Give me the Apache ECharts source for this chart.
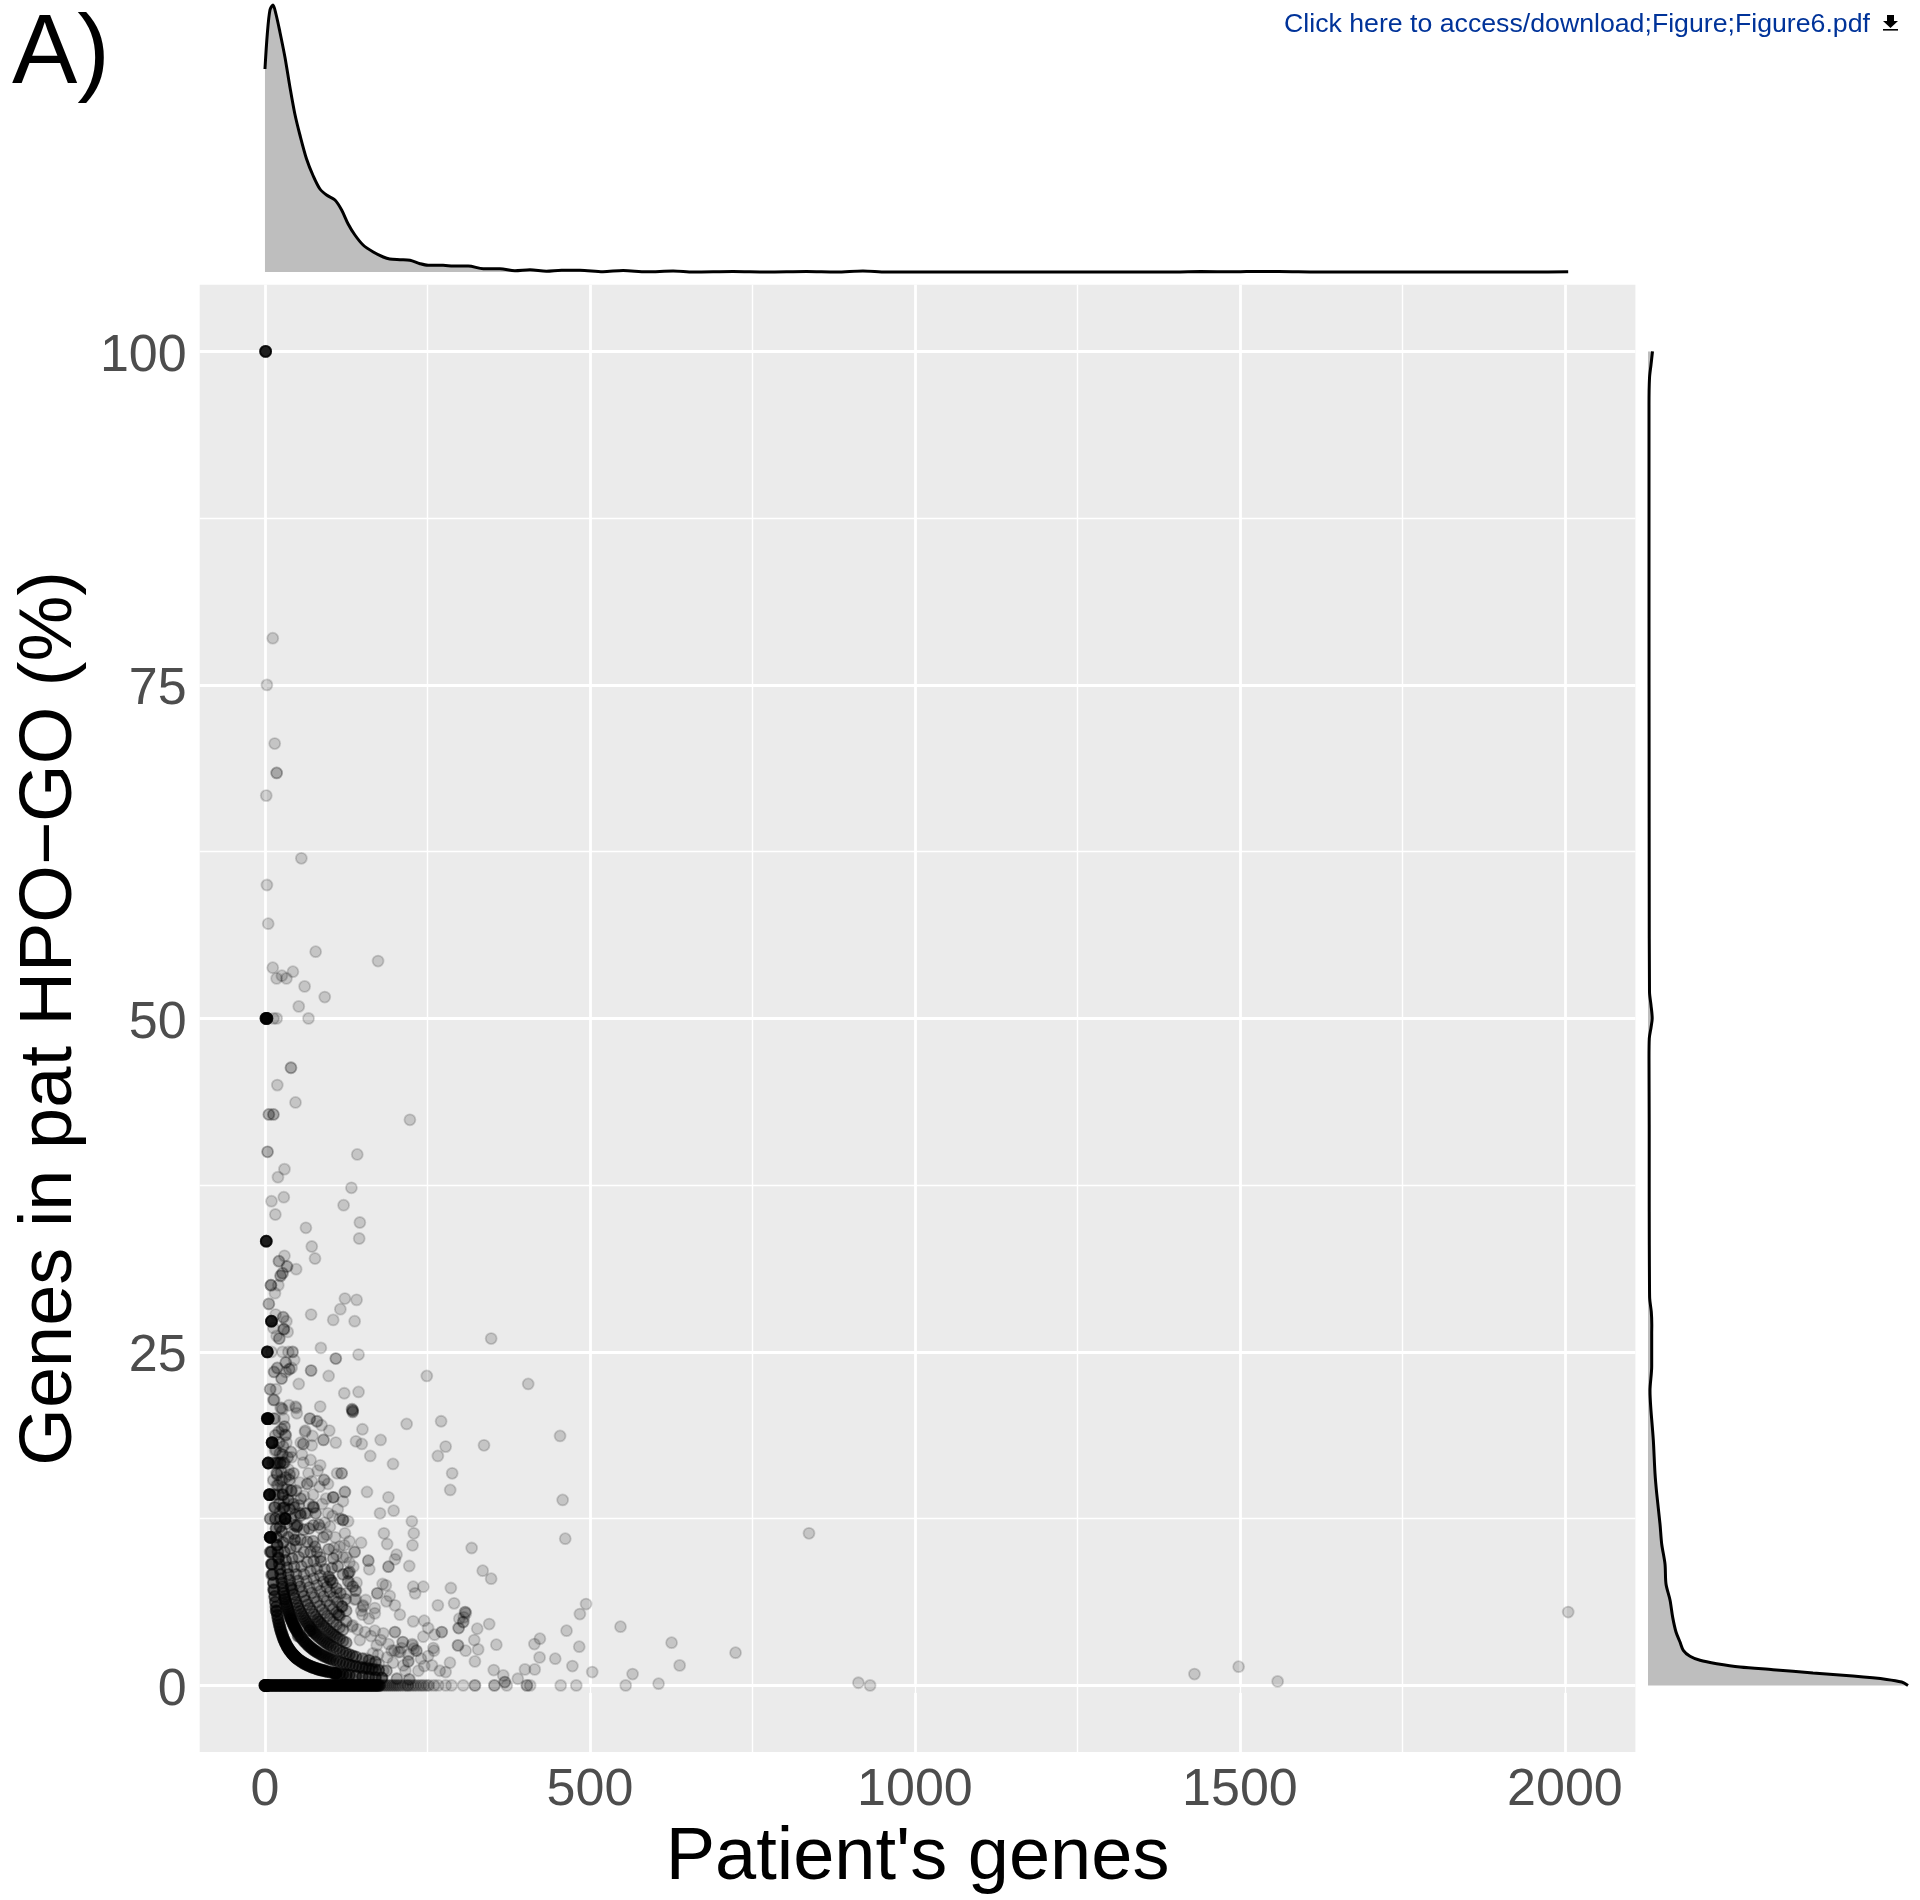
<!DOCTYPE html>
<html>
<head>
<meta charset="utf-8">
<style>html,body{margin:0;padding:0;background:#fff}#c{width:1920px;height:1900px}</style>
<script src="https://cdn.jsdelivr.net/npm/echarts@6/dist/echarts.min.js"></script>
</head>
<body>
<div id="c"></div>
<script>
const xTickValues = [0, 500, 1000, 1500, 2000];
const xMinorValues = [250, 750, 1250, 1750];
const yTickValues = [0, 25, 50, 75, 100];
const yMinorValues = [12.5, 37.5, 62.5, 87.5];

const singlePoints = [
[12,78.5],[3,75],[15,70.6],[2,66.7],[56,62],[3,60],[5,57.1],[78,55],[174,54.3],[12,53.8],[26,53.2],[33,53],[43,53.5],[18,53],[61,52.4],[92,51.6],[52,50.9],[13,50],[18,50],[67,50],
[19,45],[47,43.7],[223,42.4],[142,39.8],[30,38.7],[20,38.1],[133,37.3],[29,36.6],[10,36.3],[121,36],[16,35.3],[146,34.7],[63,34.3],[145,33.5],
[72,32.9],[77,32],[30,32.2],[48,31.2],[20.5,30],[15.4,29.4],[123,29],[141,28.9],[116,28.2],[71,27.8],[105,27.4],[138,27.3],[16.4,27.8],[33,27.3],[13,26.8],[35,26.5],[18,26.2],[348,26],
[10,25],[27,25],[36,25],[45,24.4],[86,25.3],[144,24.8],[41,23.8],[32,23.5],[98,23.2],[249,23.2],[405,22.6],[52,22.6],[17,22.2],[122,21.9],[144,22],[13,21.4],[37,21],[48,20.8],[85,20.9],[24,20.8],[27,20.7],[49,20.4],
[13,20],[29,20],[69,20],[80.5,19.8],[87,19.5],[218,19.6],[271,19.8],[62,19.1],[99,19.1],[150,19.2],[454,18.7],[337,18],[278,17.9],[266,17.2],[288,15.9],[285,14.65],[458,13.9],[462,11],[318,10.3],[335,8.6],[348,8],
[178,18.4],[162,17.2],[197,16.6],[109,18.2],[140,18.3],[149,18.1],[157,14.5],[190,14.1],[198,13.1],[177,12.9],[226,12.3],[229,11.4],[227,10.5],[183,11.4],[188,10.6],[148,10.7],[202.5,9.8],[200,9.45],[222,8.95],[160.5,8.7],
[228,7.4],[243.6,7.4],[286,7.3],[231,6.9],[266,6],[291,6.15],[181,7.6],[186,7.5],[192,6.7],[187,6.3],[200,6],[207.6,5.3],[140,7.1],[140,6.45],[151,6],[169,5.4],[160,5],[150,5.3],[135,4.5],
[228,4.8],[245,4.85],[251,4.3],[261,3.8],[243.5,3.65],[199,2.6],[208,2.5],[226.6,3.1],[229,2.75],[260,2.6],[251,2.2],[245,1.45],[257,1.5],[284.6,1.7],[269,1.1],[278,1],
[345,4.6],[326.6,4.25],[309,5.4],[306,5.1],[299,5],[322,3.4],[356,3.05],[308.7,2.6],[328,2.7],[323,1.8],[352,1.15],[366.6,.75],[389,.5],[400,1.2],[415,1.2],[414.5,3.1],[423,3.5],[422.5,2.1],[446.6,2],[473,1.45],[464,4.1],[483.5,2.9],[484.5,5.35],[494,6.1],[503.5,1],[547,4.4],[565.6,.85],[605.6,.13],[625.6,3.2],[638,1.5],
[724,2.45],[837,11.4],[913,.2],[931,0],[1430,.85],[1498,1.4],[1558,.3],[2005,5.5],[555,0],[479,0],[455,0],[408,0],[372,0],[305,0],[287,0],[278,0],[266.6,0],[248.7,0],[236,0],[219.5,0],
[31,18.8],[33,18.2],[15.4,17.6],[61.6,19],[69,20],[79.5,19.8],[73,18.7],[55,18.2],[72,18],[57,17.3],[70,16.9],[59,16.7],[85,16.5],[81,16.1],[67,15.9],[41,17.1],[36,16.2],[23,15.3],[54,15.2],[97,15.1],[111,15.9],[18,15],
[74,14.3],[97,12.9],[120,13.8],[115,12.5],[128,12.3],[123,11.4],[100,11.9],[95,11.3],[122,10.5],[106,10.3],[110,9.8],[120,9.6],[136,8.9],[141,7.7],[139,7.1],[138,6.45],[110,7],[155,6.4],[151,5.9],[169,5.8],[134,4.4],[169,4.1],[154,4],[178,3.4],[172,3],[195,2.6],[205,2.5],[227,3],[213,1.5],[259,2.8],[156,2],[174,2.3],[182,1.1],[156,1.4],[210,2.8],[221,2.3],[15,14.3],[15,13.4],[38,13.2],[25.7,20.8],[47,20.9],
[85,11.8],[92,12.2],[108,11.1],[115,10.4],[125,9.6],[130,10.8],[130,9.2],[72,15.3],[65,12.9],[88,13.6],[104,12.7],[112,13.2],[60,14.2],[68,13.6],[84,14.9],[94,14],[131,7.6],[125,6.9],[148,5.6],[142,4.2],[146,3.4],[163,3.7],[182,3.9],[190,3.1],[166,2.4],[188,2.1],[197,1.7],[240,2],[216,1.1],[236,1.1],[164,1.6],[175,1.6]
];
const doublePoints = [
[18,68.4],[40,46.3],[6,42.8],[13,42.8],[4,40],[21.5,31.8],[34,31.4],[27,30.9],[24,30.7],[6,28.6],[28,27.6],[22,26],[42.5,25],[109,24.5],[32,24.2],[19,23.8],[37.4,23.7],[14,23.5],[71,23.6],[25.6,23],[8,22.2],[134,20.7],[135,20.5],[30,19.4],
[159,9.35],[190,8.9],[130,8.5],[308,5.5],[172.8,6.9],[272,4],[200,4],[212,3.25],[233,2.6],[220.5,1.8],[298,4.3],[305,4.75],[297,3],[27,17.3],[59,18.1],[90,18.4],[23,16.67],[135,20.6],[37.5,15.4],[65,15.1],[91,15.4],[118,15.9],[40,14.6],[123,14.5],[55,14],[74,13.4],[78,12.9],[54,12.9],[46,12],[74.4,12],[77,10.4],[138,10],[85,9.6],[103,8.8],[128,8.4],[100,7.9],[187,1.1],[203,.5],[222,.45],[369,.25],[323,0],[353,0],[403,0],[10,8.3],[13,7.2],[82,4.8],[40,5],[101.5,7.9],[119,5.9],[18,15.9],[15.4,16.67],[28,16.67],[20,16.67]
];
const triplePoints = [
[9.2,30],[29,26.7],[105,14.1],[7,14.3],[27,14.3],[8,12.5],[28,13.3],[18.5,10.5],[9,11.1],[20.5,9.6],[9.8,9.1],[17,5.6],[30,6.5],[40,7.3],[23,11.9],[49,11.9],[120,12.4],[46,10.9],[113,5.3],[69,4.1],[51,3.7],[8,10]
];
const stackedPoints = [
[1,100],[1.6,50],[3,50],[2,33.3],[10,27.3],[3.6,25],[3.6,20],[5,20],[11,18.2],[5,16.67],[7,14.3],[31,12.5],[8,11.1],[108,.9],[0,0],[1,0],[2,0],[3,0]
];
const fewGenePoints = [
[14,21.4],[15,20],[16,18.75],[17,17.65],[18,16.67],[19,15.8],[20,15],[21,14.3],[22,13.6],[23,13],
[21,19],[22,18.2],[23,17.4],[24,16.7],[25,16],[26,15.4],[27,14.8],[28,14.3],[29,13.8],
[26,19.2],[28,17.9],[30,16.7],[32,15.6],[34,14.7],[36,13.9],[38,13.2],
[11,18.18],[12,16.67],[13,15.38],[14,14.29],
[32,18.75],[35,17.1],[38,15.8],[41,14.6],[44,13.6],[47,12.8],
[40,17.5],[44,15.9],[48,14.6],[52,13.5]
];
const arc1Points = [
[9,11.11],[10,10],[11,9.09],[12,8.33],[13,7.69],[14,7.14],[15,6.67],[16,6.25],[17,5.88],[18,5.56],[19,5.26],[20,5],[21,4.76],[22,4.55],[23,4.35],[24,4.17],[25,4],[26,3.85],[27,3.7],[28,3.57],[29,3.45],[30,3.33],[31,3.23],[32,3.13],[33,3.03],[34,2.94],[35,2.86],[36,2.78],[37,2.7],[38,2.63],[39,2.56],[40,2.5],[41,2.44],[42,2.38],[43,2.33],[44,2.27],[45,2.22],[46,2.17],[47,2.13],[48,2.08],[49,2.04],[50,2],[52,1.92],[54,1.85],[56,1.79],[58,1.72],[60,1.67],[62,1.61],[64,1.56],[66,1.52],[68,1.47],[70,1.43],[72,1.39],[74,1.35],[76,1.32],[78,1.28],[80,1.25],[82,1.22],[84,1.19],[86,1.16],[88,1.14],[90,1.11],[93,1.08],[96,1.04],[100,1],[105,.95],[110,.91],[115,.87],[120,.83],[125,.8],[130,.77],[140,.71],[150,.67],[160,.63],[170,.59],[180,.56]
];
const arc2Points = [
[15,13.33],[16,12.5],[17,11.76],[18,11.11],[19,10.53],[20,10],[21,9.52],[22,9.09],[23,8.7],[24,8.33],[25,8],[26,7.69],[27,7.41],[28,7.14],[29,6.9],[30,6.67],[31,6.45],[32,6.25],[33,6.06],[34,5.88],[35,5.71],[36,5.56],[37,5.41],[38,5.26],[39,5.13],[40,5],[41,4.88],[42,4.76],[43,4.65],[44,4.55],[45,4.44],[46,4.35],[47,4.26],[48,4.17],[49,4.08],[50,4],[52,3.85],[54,3.7],[56,3.57],[58,3.45],[60,3.33],[62,3.23],[64,3.13],[66,3.03],[68,2.94],[70,2.86],[72,2.78],[74,2.7],[76,2.63],[78,2.56],[80,2.5],[83,2.41],[86,2.33],[89,2.25],[92,2.17],[95,2.11],[98,2.04],[101,1.98],[105,1.9],[110,1.82],[115,1.74],[120,1.67],[125,1.6],[130,1.54],[135,1.48],[140,1.43],[145,1.38],[150,1.33],[155,1.29],[160,1.25],[165,1.21],[170,1.18],[175,1.14]
];
const arc3Points = [
[24,12.5],[26,11.54],[28,10.71],[30,10],[32,9.38],[34,8.82],[36,8.33],[38,7.89],[40,7.5],[42,7.14],[44,6.82],[46,6.52],[48,6.25],[50,6],[52,5.77],[54,5.56],[56,5.36],[58,5.17],[60,5],[62,4.84],[64,4.69],[66,4.55],[68,4.41],[70,4.29],[72,4.17],[74,4.05],[76,3.95],[78,3.85],[80,3.75],[83,3.61],[86,3.49],[89,3.37],[92,3.26],[95,3.16],[98,3.06],[101,2.97],[105,2.86],[110,2.73],[115,2.61],[120,2.5],[125,2.4],[130,2.31],[135,2.22],[140,2.14],[150,2],[160,1.88],[170,1.76]
];
const arc4Points = [
[30,13.33],[33,12.12],[36,11.11],[39,10.26],[42,9.52],[45,8.89],[48,8.33],[51,7.84],[54,7.41],[57,7.02],[60,6.67],[63,6.35],[66,6.06],[69,5.8],[72,5.56],[75,5.33],[78,5.13],[81,4.94],[84,4.76],[87,4.6],[90,4.44],[93,4.3],[96,4.17],[99,4.04],[102,3.92],[105,3.81],[108,3.7],[111,3.6],[115,3.48],[120,3.33],[125,3.2]
];
const arc5to9Points = [
[36,13.89],[40,12.5],[44,11.36],[48,10.42],[52,9.62],[56,8.93],[60,8.33],[64,7.81],[68,7.35],[72,6.94],[76,6.58],[80,6.25],[84,5.95],[88,5.68],[92,5.43],[96,5.21],[100,5],[105,4.76],[110,4.55],[115,4.35],[120,4.17],
[45,13.33],[50,12],[55,10.91],[60,10],[65,9.23],[70,8.57],[75,8],[80,7.5],[85,7.06],[90,6.67],[95,6.32],[100,6],[105,5.71],[110,5.45],[115,5.22],[125,4.8],
[55,12.73],[60,11.67],[65,10.77],[70,10],[75,9.33],[80,8.75],[85,8.24],[90,7.78],[95,7.37],[100,7],[106,6.6],[112,6.25],[118,5.93],[125,5.6],
[62,12.9],[68,11.76],[74,10.81],[80,10],[86,9.3],[92,8.7],[98,8.16],[104,7.69],[110,7.27],[116,6.9],[124,6.45],
[75,13.33],[83,12.05],[90,11.11],[98,10.2],[105,9.52],[112,8.93],[120,8.33],[128,7.81],[135,7.41]
];
const zeroRowGenes = [4,6,8,10,12,14,16,18,20,22,24,26,28,30,32,34,36,38,40,42,44,46,48,50,52,54,56,58,60,62,64,66,68,70,72,74,76,78,80,82,84,86,88,90,92,94,96,98,100,102,104,106,108,110,112,114,116,118,120,122,124,126,128,130,132,134,136,138,140,142,144,146,148,150,152,154,156,158,160,162,164,166,168,170,172,174,176];
const zeroRowSparse = [178,181,184,187,190,193,196,199,202,205,208,212,216,220,224,228,232,240,244,252,260];

const topDensity = [
[0,203],[3.6,238],[7.7,262],[12.3,267],[16.9,258],[23,240],[30.7,215],[38.4,185],[46,158],[53.8,137],[64,113],[74.3,96],[84.6,83],[94.8,77],[107.7,72],[118,62],[128,48],[138.4,37],[151,27],[166.6,20],[182,15],[192,13],[207.7,12.3],[223,11.7],[238.5,8.3],[251,6.7],[274,6.7],[289.7,6],[312.8,6],[336,3.3],[361.5,3.3],[384.6,1.3],[407.7,2.3],[433,.7],[456.4,1.7],[484.6,1.7],[520,.3],[551,1.5],[587,.2],[628,1],[659,0],[720,.5],[772,0],[833,.5],[879,0],[920,1],[956,0],[1000,0],[1200,0],[1400,0],[1440,.4],[1490,.2],[1510,.4],[1560,.5],[1620,0],[1950,0],[2005,.3]
];
const rightDensity = [
[4.5,100],[3,99],[1.5,98],[1,96],[1,90],[1,80],[1.1,70],[1.2,60],[1.5,52],[3,51],[4.2,50],[3,49.3],[1.3,48.5],[1,47],[1.2,42],[1.2,38],[1.3,33],[1.5,30],[1.7,29],[3.3,28],[3.8,27],[3.7,26.4],[3.7,23.9],[2,22.1],[2.7,20.9],[5.3,18.4],[7,15.9],[8.7,14.4],[12,12.1],[13.7,10.6],[17,9.1],[18,7.6],[22,6.4],[24.7,5.1],[28,4],[32,3.25],[35.3,2.63],[42,2.18],[52,1.88],[68.7,1.63],[92,1.38],[125,1.18],[165,.93],[205,.7],[238.7,.45],[253.7,.25],[260,0]
];

const FONT = 'Liberation Sans';
const ring = (a) => ({ color: 'rgba(0,0,0,' + a + ')', borderColor: 'rgba(0,0,0,' + a + ')', borderWidth: 1.8 });
const dots = (data, a, z) => ({
  type: 'scatter', xAxisIndex: 0, yAxisIndex: 0, data: data, symbol: 'circle', symbolSize: 11,
  itemStyle: ring(a), silent: true, z: z || 5, large: false, progressive: 0, animation: false
});
const gridLines = (vals, key, w) => ({
  type: 'scatter', xAxisIndex: 0, yAxisIndex: 0, data: [], z: 1, silent: true,
  markLine: { silent: true, symbol: 'none', animation: false, label: { show: false }, z: 1,
    lineStyle: { color: '#fff', width: w, type: 'solid' },
    data: vals.map(v => ({ [key]: v })) }
});
const plain = (v) => String(v);

const chart = echarts.init(document.getElementById('c'), null, { renderer: 'canvas' });
chart.setOption({
  animation: false,
  backgroundColor: '#fff',
  textStyle: { fontFamily: FONT },
  grid: [
    { left: 199.7, top: 284.7, width: 1435.7, height: 1467.4, show: true, backgroundColor: '#EBEBEB', borderWidth: 0, outerBoundsMode: 'none', containLabel: false },
    { left: 199.7, top: 0, width: 1435.7, height: 272, show: false, outerBoundsMode: 'none' },
    { left: 1648, top: 284.7, width: 272, height: 1467.4, show: false, outerBoundsMode: 'none' }
  ],
  xAxis: [
    { gridIndex: 0, type: 'value', min: -100.4, max: 2108.4, splitLine: { show: false }, axisLine: { show: false },
      axisTick: { show: true, length: 7.5, lineStyle: { color: '#333', width: 2.6 }, customValues: xTickValues },
      axisLabel: { color: '#4D4D4D', fontSize: 52, fontFamily: FONT, margin: 13, customValues: xTickValues, hideOverlap: false, formatter: plain },
      name: "Patient's genes", nameLocation: 'middle', nameGap: 62,
      nameTextStyle: { fontFamily: FONT, fontSize: 74, color: '#000' } },
    { gridIndex: 1, type: 'value', min: -100.4, max: 2108.4, show: false },
    { gridIndex: 2, type: 'value', min: 0, max: 272, show: false }
  ],
  yAxis: [
    { gridIndex: 0, type: 'value', min: -5, max: 105, splitLine: { show: false }, axisLine: { show: false },
      axisTick: { show: true, length: 7.5, lineStyle: { color: '#333', width: 2.6 }, customValues: yTickValues },
      axisLabel: { color: '#4D4D4D', fontSize: 52, fontFamily: FONT, margin: 13, customValues: yTickValues, formatter: plain, verticalAlign: 'top', padding: [-21, 0, 0, 0] },
      name: 'Genes in pat HPO\u2212GO (%)', nameLocation: 'middle', nameGap: 112, nameRotate: 90,
      nameTextStyle: { fontFamily: FONT, fontSize: 74, color: '#000' } },
    { gridIndex: 1, type: 'value', min: 0, max: 272, show: false },
    { gridIndex: 2, type: 'value', min: -5, max: 105, show: false }
  ],
  series: [
    gridLines(xMinorValues, 'xAxis', 1.4),
    gridLines(yMinorValues, 'yAxis', 1.4),
    gridLines(xTickValues, 'xAxis', 2.8),
    gridLines(yTickValues, 'yAxis', 2.8),
    dots(singlePoints, 0.2),
    dots(doublePoints, 0.36),
    dots(triplePoints, 0.5),
    dots(fewGenePoints, 0.3),
    dots(arc5to9Points, 0.36),
    dots(arc4Points, 0.42),
    dots(arc3Points, 0.5),
    dots(arc2Points, 0.56),
    dots(arc1Points, 0.7),
    dots(zeroRowSparse.map(v => [v, 0]), 0.25),
    dots(zeroRowGenes.map(v => [v, 0]), 0.7),
    dots(stackedPoints, 0.82),
    dots(stackedPoints, 0.82),
    { type: 'custom', xAxisIndex: 2, yAxisIndex: 2, coordinateSystem: 'cartesian2d', data: [0], silent: true, z: 3, clip: false,
      renderItem: (params, api) => {
        const pts = rightDensity.map(d => api.coord(d));
        pts.unshift(api.coord([0, 100]));
        pts.push(api.coord([0, 0]));
        return { type: 'polygon', shape: { points: pts }, style: { fill: '#BEBEBE', stroke: null } };
      } },
    { type: 'line', xAxisIndex: 2, yAxisIndex: 2, data: rightDensity, symbol: 'none', smooth: 0.3, clip: false, silent: true, z: 4,
      lineStyle: { color: '#000', width: 3 } },
    { type: 'line', xAxisIndex: 1, yAxisIndex: 1, data: topDensity, symbol: 'none', smooth: 0.3, clip: false, silent: true, z: 4,
      lineStyle: { color: '#000', width: 3 }, areaStyle: { color: '#BEBEBE', opacity: 1 } }
  ],
  graphic: [
    { type: 'text', left: 12, top: 7, silent: true, style: { text: 'A)', font: '98px "Liberation Sans"', fill: '#000' } },
    { type: 'text', left: 1284, top: 11, silent: true, style: { text: 'Click here to access/download;Figure;Figure6.pdf', font: '26.7px "Liberation Sans"', fill: '#003399' } },
    { type: 'polygon', silent: true, shape: { points: [[1887,15],[1894,15],[1894,21],[1898,21],[1890.5,28],[1883,21],[1887,21]] }, style: { fill: '#000' } },
    { type: 'rect', silent: true, shape: { x: 1883, y: 29, width: 15, height: 1.6 }, style: { fill: '#000' } }
  ]
});
</script>
</body>
</html>
